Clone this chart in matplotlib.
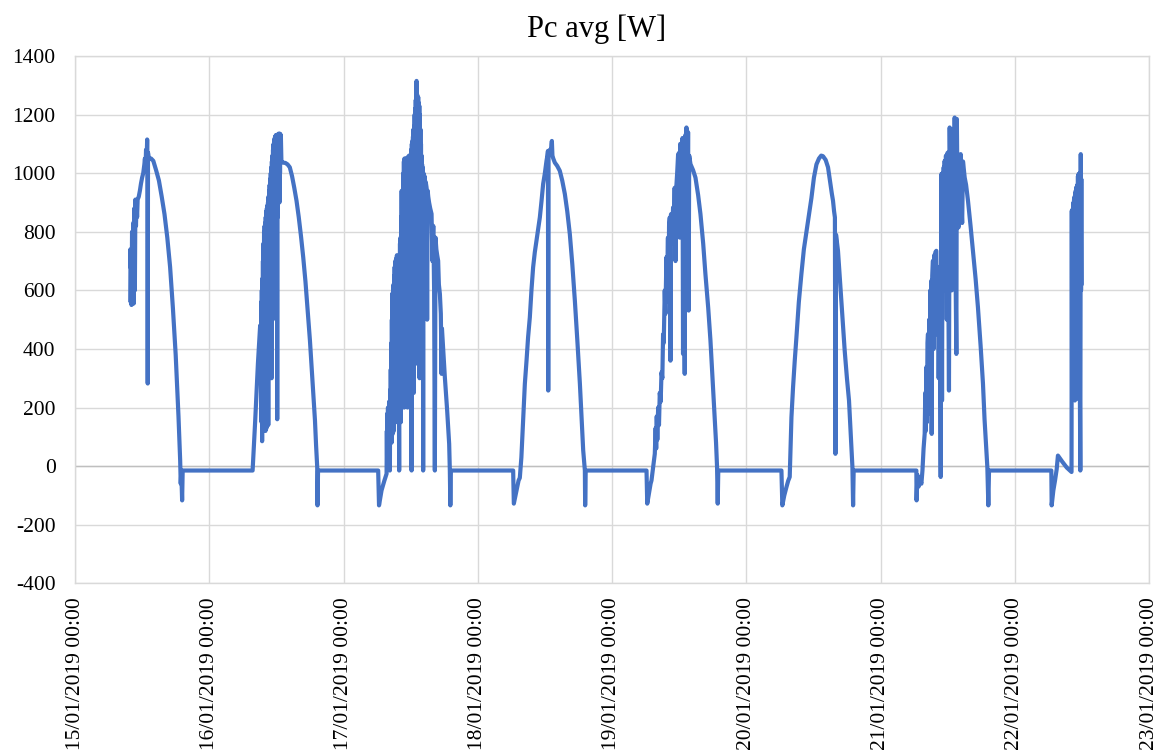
import matplotlib
matplotlib.use("Agg")
import matplotlib.pyplot as plt
import matplotlib.dates as mdates
import pandas as pd

plt.rcParams["font.family"] = ["Liberation Serif", "DejaVu Serif"]
plt.rcParams["axes.unicode_minus"] = False

# Hour of day and average power Pc (W), one pair of lists per logged day
jan15_h = [9.85, 9.9, 9.95, 10.05, 10.1, 10.2, 10.3, 10.4, 10.5, 10.6, 10.7, 10.8,
           10.9, 11.0, 11.1, 11.2, 11.4, 11.6, 11.8, 12.0, 12.2, 12.4, 12.5, 12.6,
           12.7, 12.8, 12.9, 12.95, 13.0, 13.05, 13.2, 13.6, 14.0, 14.5, 15.0, 15.5,
           16.0, 16.5, 17.0, 17.5, 18.0, 18.5, 18.8, 18.9, 19.0, 19.15, 19.25]
jan15_w = [680, 740, 560, 720, 550, 800, 570, 830, 555, 880, 600, 910,
           820, 900, 850, 910, 920, 940, 965, 985, 1000, 1030, 1050, 1010,
           1080, 1040, 1115, 1060, 282, 1070, 1050, 1050, 1042, 1010, 975, 920,
           860, 780, 680, 540, 380, 170, 20, -60, -20, -117, -15]

jan16_h = [7.75, 8.2, 8.7, 9.1, 9.2, 9.3, 9.35, 9.4, 9.45, 9.5, 9.55, 9.6, 9.65,
           9.7, 9.75, 9.8, 9.85, 9.9, 9.95, 10.0, 10.05, 10.1, 10.15, 10.2, 10.25,
           10.3, 10.35, 10.4, 10.45, 10.5, 10.55, 10.6, 10.65, 10.7, 10.75, 10.8,
           10.85, 10.9, 10.95, 11.0, 11.05, 11.1, 11.15, 11.2, 11.25, 11.3, 11.35,
           11.4, 11.45, 11.5, 11.55, 11.6, 11.65, 11.7, 11.75, 11.8, 11.85, 11.9,
           11.95, 12.0, 12.05, 12.1, 12.15, 12.2, 12.25, 12.3, 12.35, 12.4, 12.45,
           12.5, 12.55, 12.6, 12.65, 12.7, 12.75, 12.8, 12.9, 13.2, 13.6, 14.0,
           14.4, 14.8, 15.2, 15.6, 16.0, 16.4, 16.8, 17.2, 17.6, 18.0, 18.4, 18.9,
           19.1, 19.3, 19.35, 19.45]
jan16_w = [-15, 150, 350, 480, 300, 560, 150, 600, 85, 640, 250, 700, 120,
           760, 400, 800, 150, 820, 300, 830, 120, 850, 500, 870, 130,
           880, 350, 890, 600, 900, 140, 920, 450, 940, 300, 960,
           700, 980, 400, 1000, 600, 1020, 300, 1040, 750, 1060, 500,
           1080, 800, 1100, 650, 1110, 900, 1120, 700, 1125, 950, 1130,
           800, 1122, 1000, 1130, 160, 1100, 850, 1133, 1000, 1135, 1040,
           1130, 900, 1135, 1000, 1133, 1050, 1130, 1040, 1036, 1035, 1030,
           1020, 990, 950, 906, 850, 785, 713, 630, 530, 429, 310, 156,
           70, -3, -134, -15]

jan17_h = [6.2, 6.35, 6.8, 7.3, 7.7, 7.75, 7.8, 7.85, 7.9, 7.95, 8.0, 8.05, 8.1,
           8.15, 8.2, 8.25, 8.29, 8.35, 8.4, 8.45, 8.5, 8.55, 8.6, 8.65, 8.7, 8.75,
           8.8, 8.85, 8.9, 8.95, 9.0, 9.05, 9.1, 9.15, 9.2, 9.25, 9.3, 9.35, 9.4,
           9.45, 9.5, 9.55, 9.6, 9.65, 9.7, 9.75, 9.8, 9.85, 9.9, 9.95, 10.0, 10.05,
           10.1, 10.15, 10.2, 10.25, 10.3, 10.35, 10.4, 10.45, 10.5, 10.55, 10.6,
           10.65, 10.7, 10.75, 10.8, 10.85, 10.9, 10.95, 11.0, 11.05, 11.1, 11.15,
           11.2, 11.25, 11.3, 11.35, 11.4, 11.45, 11.5, 11.55, 11.6, 11.65, 11.7,
           11.75, 11.8, 11.85, 11.9, 11.95, 12.0, 12.05, 12.1, 12.17, 12.22, 12.27,
           12.32, 12.37, 12.42, 12.47, 12.52, 12.57, 12.62, 12.67, 12.72, 12.77,
           12.82, 12.87, 12.92, 12.97, 13.02, 13.06, 13.1, 13.15, 13.2, 13.25,
           13.3, 13.35, 13.4, 13.45, 13.5, 13.55, 13.6, 13.65, 13.7, 13.75, 13.8,
           13.85, 13.9, 13.95, 14.0, 14.05, 14.1, 14.15, 14.2, 14.24, 14.3, 14.4,
           14.5, 14.6, 14.7, 14.85, 14.95, 15.05, 15.15, 15.3, 15.5, 15.74, 15.9,
           16.05, 16.2, 16.33, 16.45, 16.6, 16.75, 16.92, 17.05, 17.23, 17.4,
           17.53, 17.6, 17.85, 18.12, 18.53, 18.89, 19.01, 19.1, 19.2]
jan17_w = [-15, -134, -83, -50, -26, 120, 10, 180, 40, 200, 60, 150, 90,
           220, 40, 130, -15, 260, 120, 330, 150, 420, 80, 500, 200, 590,
           110, 560, 250, 620, 120, 650, 300, 680, 150, 700, 350, 690, 180,
           710, 280, 720, 150, 700, 400, 650, 200, 600, 300, -15, 700, 180,
           760, 300, 780, 150, 850, 350, 940, 200, 900, 450, 880,
           250, 1000, 500, 1040, 200, 1050, 400, 1000, 250, 1050, 600,
           980, 300, 1050, 450, 900, 200, 1055, 650, 1000, 300, 1060,
           500, 950, 250, 1060, 600, 1000, 300, 1080, -15, 1100, 450,
           1110, 300, 1125, 700, 1150, 250, 1160, 800, 1200, 400,
           1220, 650, 1250, 350, 1290, 1315, 700, 1270, 500, 1250,
           900, 1260, 400, 1240, 750, 1230, 300, 1200, 850, 1150, 400,
           1100, 700, 1060, 300, 1030, 800, 1020, 600, -15, 1000, 700,
           990, 850, 970, 951, 500, 940, 920, 900, 880, 861, 700,
           820, 600, -15, 780, 740, 720, 701, 620, 588, 520,
           315, 470, 390, 303, 190, 76, -15, -134, -15]

jan18_h = [6.33, 6.45, 6.93, 7.3, 7.52, 7.8, 8.0, 8.2, 8.42, 8.72, 9.0, 9.31,
           9.6, 9.9, 10.2, 10.5, 10.8, 11.1, 11.4, 11.69, 12.0, 12.29, 12.45,
           12.55, 12.6, 12.65, 12.9, 13.05, 13.18, 13.25, 13.35, 13.5, 13.78, 14.2,
           14.67, 15.1, 15.57, 16.0, 16.46, 16.9, 17.36, 17.8, 18.26, 18.6, 18.85,
           19.15, 19.2, 19.3]
jan18_w = [-15, -128, -83, -49, -40, 30, 110, 190, 281, 360, 440, 508,
           600, 679, 730, 770, 810, 849, 905, 963, 1000, 1042, 1060,
           1076, 258, 1070, 1080, 1070, 1099, 1110, 1060, 1050, 1036, 1025,
           1008, 975, 929, 870, 792, 690, 565, 430, 281, 150, 54,
           -15, -134, -15]

jan19_h = [6.17, 6.3, 6.9, 7.06, 7.5, 7.65, 7.8, 7.9, 8.0, 8.1, 8.25, 8.4, 8.54,
           8.7, 8.85, 9.0, 9.13, 9.25, 9.43, 9.55, 9.73, 9.85, 10.0, 10.1, 10.2,
           10.33, 10.45, 10.55, 10.7, 10.92, 11.05, 11.2, 11.35, 11.52, 11.65,
           11.82, 11.9, 12.0, 12.1, 12.2, 12.3, 12.4, 12.5, 12.6, 12.7, 12.8, 12.9,
           13.0, 13.1, 13.2, 13.31, 13.4, 13.5, 13.6, 13.7, 13.8, 14.03, 14.5,
           14.92, 15.4, 15.81, 16.3, 16.7, 17.2, 17.6, 18.0, 18.37, 18.6, 18.78,
           18.9, 19.0]
jan19_w = [-15, -128, -60, -49, 20, 42, 130, 60, 170, 90, 200, 140, 250,
           220, 320, 300, 450, 420, 600, 520, 713, 620, 780, 560, 820,
           849, 360, 860, 760, 883, 800, 950, 700, 960, 1000,
           1065, 820, 1070, 780, 1100, 800, 1050, 900, 1120, 383, 1100, 600,
           315, 1130, 900, 1156, 1080, 800, 1140, 531, 1060, 1031, 1010,
           985, 925, 861, 760, 656, 540, 429, 290, 167, 80, -3,
           -128, -15]

jan20_h = [6.29, 6.45, 6.8, 7.18, 7.5, 7.77, 8.08, 8.37, 8.67, 8.97, 9.4, 9.86,
           10.3, 10.76, 11.2, 11.65, 12.1, 12.55, 13.0, 13.4, 13.72, 14.2, 14.62,
           15.0, 15.3, 15.51, 15.7, 15.85, 15.94, 16.05, 16.4, 16.7, 17.0, 17.3,
           17.6, 18.0, 18.37, 18.7, 18.98, 19.1, 19.2]
jan20_w = [-15, -134, -100, -72, -50, -37, 167, 270, 360, 440, 560, 656,
           740, 800, 860, 915, 985, 1030, 1050, 1060, 1058, 1045, 1020,
           970, 930, 906, 870, 849, 42, 790, 735, 650, 565, 480,
           394, 300, 224, 100, -3, -134, -15]

jan21_h = [6.41, 6.45, 6.6, 6.8, 7.0, 7.31, 7.5, 7.7, 7.9, 8.0, 8.1, 8.2, 8.3,
           8.4, 8.49, 8.6, 8.7, 8.8, 8.9, 9.0, 9.1, 9.15, 9.25, 9.38, 9.5, 9.6,
           9.7, 9.8, 9.98, 10.1, 10.25, 10.4, 10.55, 10.7, 10.76, 10.88, 11.0,
           11.1, 11.2, 11.3, 11.4, 11.47, 11.6, 11.7, 11.85, 12.0, 12.1, 12.24,
           12.37, 12.5, 12.6, 12.75, 12.9, 13.0, 13.1, 13.2, 13.26, 13.4, 13.56,
           13.65, 13.8, 13.95, 14.1, 14.33, 14.45, 14.6, 14.75, 15.05, 15.3,
           15.64, 16.1, 16.53, 17.0, 17.42, 17.9, 18.32, 18.6, 18.92, 19.1,
           19.28, 19.4]
jan21_w = [-15, -117, -30, -70, -40, -60, -15, 60, 111, 250, 120, 338, 150,
           420, 451, 179, 500, 300, 600, 200, 633, 110, 650, 701, 400, 720,
           500, 730, 735, 450, 680, 300, 600, 200, -37, 997, 224,
           1000, 600, 1020, 700, 1042, 800, 1060, 500, 1070, 700, 258,
           1156, 900, 1080, 600, 1060, 800, 1150, 900, 1190, 700, 383,
           1185, 850, 815, 1000, 1065, 900, 830, 1040, 985, 960,
           906, 820, 735, 640, 542, 410, 281, 160, 54, -3,
           -134, -15]

jan22_h = [6.54, 6.6, 6.9, 7.2, 7.5, 7.72, 8.5, 9.3, 10.15, 10.2, 10.25, 10.3,
           10.35, 10.4, 10.45, 10.5, 10.55, 10.6, 10.65, 10.7, 10.75, 10.8, 10.85,
           10.9, 10.95, 11.0, 11.05, 11.1, 11.15, 11.2, 11.25, 11.3, 11.35, 11.4,
           11.45, 11.5, 11.55, 11.6, 11.65, 11.72, 11.8, 11.85, 11.9, 11.95]
jan22_w = [-15, -134, -83, -49, -10, 36, 15, -5, -20, 872, 240, 860,
           300, 880, 230, 900, 260, 910, 240, 920, 224, 930, 280,
           940, 240, 950, 300, 955, 250, 960, 230, 990, 280, 997,
           240, 970, 260, 1000, 230, -15, 1065, 600, 980, 620]

log_days = [
    ("2019-01-15", jan15_h, jan15_w),
    ("2019-01-16", jan16_h, jan16_w),
    ("2019-01-17", jan17_h, jan17_w),
    ("2019-01-18", jan18_h, jan18_w),
    ("2019-01-19", jan19_h, jan19_w),
    ("2019-01-20", jan20_h, jan20_w),
    ("2019-01-21", jan21_h, jan21_w),
    ("2019-01-22", jan22_h, jan22_w),
]

times, watts = [], []
for day, hours, values in log_days:
    base = pd.Timestamp(day)
    times += [base + pd.Timedelta(hours=h) for h in hours]
    watts += list(values)

y_ticks = list(range(-400, 1401, 200))
x_start, x_end = pd.Timestamp("2019-01-15"), pd.Timestamp("2019-01-23")

fig = plt.figure(figsize=(11.58, 7.53), dpi=100)
ax = fig.add_axes([75 / 1158, 1 - 583.3 / 753, (1149 - 75) / 1158, (583.3 - 56) / 753])

ax.plot(times, watts, color="#4472C4", lw=3.0,
        solid_joinstyle="round", solid_capstyle="round", zorder=3)

ax.set_xlim(x_start, x_end)
ax.set_ylim(-400, 1400)
ax.set_yticks(y_ticks)
ax.xaxis.set_major_locator(mdates.DayLocator())
ax.xaxis.set_major_formatter(mdates.DateFormatter("%d/%m/%Y %H:%M"))

ax.grid(True, color="#D9D9D9", lw=1)
ax.set_axisbelow(True)
for spine in ax.spines.values():
    spine.set_color("#D9D9D9")
    spine.set_linewidth(1)
ax.axhline(0, color="#BFBFBF", lw=1, zorder=2)

ax.tick_params(axis="both", length=0, labelsize=15.5, colors="#000000")
ax.tick_params(axis="y", pad=14)
ax.tick_params(axis="x", pad=10)
for lbl in ax.get_xticklabels():
    lbl.set_rotation(90)

fig.text(597 / 1158, 1 - 36.7 / 753, "Pc avg [W]", ha="center", va="baseline",
         fontsize=22)

fig.savefig("out.png", dpi=100)
